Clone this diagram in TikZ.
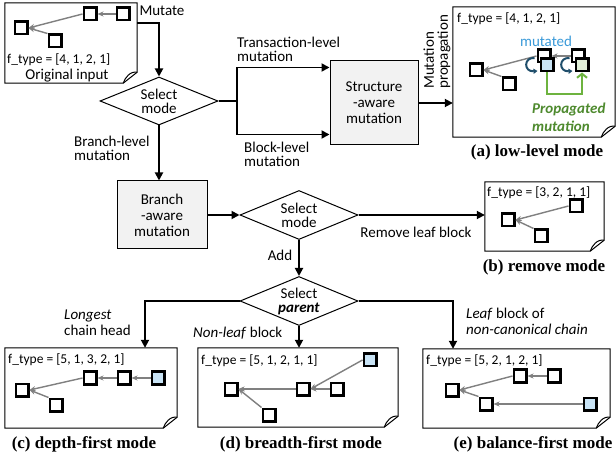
\documentclass[tikz,border=0pt]{standalone}
\usepackage{fontspec}
\setmainfont{Carlito}
\newfontfamily\capfont{Liberation Serif}
\usetikzlibrary{shapes.geometric,arrows.meta,calc}

\definecolor{boxgray}{HTML}{F2F2F2}
\definecolor{mutblue}{HTML}{C9E4F6}
\definecolor{mutgreen}{HTML}{E2F0D9}
\definecolor{propline}{HTML}{6DB33F}
\definecolor{proptext}{HTML}{4E8A2E}
\definecolor{labelblue}{HTML}{3A9AD9}
\definecolor{curlcol}{HTML}{1F4E6B}
\definecolor{linkgray}{HTML}{808080}

\tikzset{
  txt/.style={font=\fontsize{15}{14}\selectfont, inner sep=0pt, align=left},
  txtb/.style={font=\fontsize{15}{16}\selectfont, inner sep=0pt, align=left},
  ftype/.style={font=\fontsize{13.5}{14}\selectfont, inner sep=0pt, anchor=west},
  caption/.style={font=\capfont\bfseries\fontsize{17}{17}\selectfont, inner sep=0pt},
  flow/.style={line width=1.8pt, -{Triangle[length=8pt,width=8pt]}},
  flowline/.style={line width=1.8pt},
  procbox/.style={draw, line width=1pt, fill=boxgray, inner sep=0pt, align=center,
                  font=\fontsize{15}{16}\selectfont},
  choice/.style={diamond, draw, line width=1pt, fill=white, inner sep=0pt, aspect=2.4,
                 align=center, font=\fontsize{15}{14}\selectfont},
  page/.style={inner sep=0pt},
  pageline/.style={line width=1pt, line join=miter},
  blk/.style={draw, line width=2.5pt, fill=white, minimum size=12.5pt, inner sep=0pt},
  link/.style={draw=linkgray, line width=1.4pt, -{Stealth[length=6pt,width=5pt]}},
  curl/.style={draw=curlcol, line width=2pt, -{Triangle[length=4pt,width=5pt]}},
  prop/.style={draw=propline, line width=2pt, -{Straight Barb[length=4pt,width=10pt]}},
}

% page outline with a folded bottom-right corner
\newcommand{\pageoutline}[1]{%
  \draw[pageline, fill=white] (#1.north west) -- (#1.north east)
     -- ($(#1.south east)+(0,-11)$) -- ($(#1.south east)+(-14,0)$)
     -- (#1.south west) -- cycle;
  \draw[pageline] ($(#1.south east)+(-14,0)$) to[bend left=12] ($(#1.south east)+(-9,-8)$)
     to[bend left=25] ($(#1.south east)+(0,-11)$);
}

\begin{document}
\begin{tikzpicture}[x=1pt,y=-1pt]
\useasboundingbox (0,0) rectangle (616,462);

% ---------- original input ----------
\node[page, minimum width=132pt, minimum height=80pt] (orig) at (71,43) {};
\pageoutline{orig}
\node[blk] (oS1) at (21,28) {};
\node[blk] (oS2) at (90,14) {};
\node[blk] (oS3) at (123,14) {};
\node[blk] (oS4) at (55,41) {};
\draw[link] (oS3.west) -- (oS2.east);
\draw[link] (oS2.west) -- (oS1.east);
\draw[link] (oS4.north west) -- (oS1.east);
\node[ftype] (oF) at (7,60) {f\_type = [4, 1, 2, 1]};
\node[txt] (oT) at (67,76) {Original input};

% ---------- first mode choice ----------
\node[choice, minimum width=118pt, minimum height=48pt] (dmA) at (159,101) {Select\\mode};
\node[txt] (lMut) at (162,11) {Mutate};
\draw[flow] ($(orig.north east)+(0,20)$) -| (dmA.north);

\coordinate (jA) at (237,101);
\node[procbox, minimum width=88pt, minimum height=84pt] (sa) at (374,103) {Structure\\-aware\\mutation};
\draw[flowline] (dmA.east) -- (jA);
\draw[flow] (jA) |- ($(sa.north west)+(0,7)$);
\draw[flow] (jA) |- ($(sa.south west)+(0,-11)$);
\node[txt, anchor=west] (lTx) at (237,49) {Transaction-level\\mutation};
\node[txt, anchor=west] (lBl) at (244,154) {Block-level\\mutation};

% ---------- (a) low-level mode ----------
\node[page, minimum width=162pt, minimum height=130pt] (pa) at (534,72) {};
\pageoutline{pa}
\draw[flow] (sa.east) -- (sa.east -| pa.west);
\node[txt, rotate=90, anchor=west] (lProp) at (437,89) {Mutation\\propagation};
\node[ftype] (aF) at (457,19) {f\_type = [4, 1, 2, 1]};
\node[txt, text=labelblue] (aMt) at (546,41) {mutated};
\node[blk] (aS1) at (476,70) {};
\node[blk] (aS2) at (509,84) {};
\node[blk] (aG1) at (544,56) {};
\node[blk] (aG2) at (578,56) {};
\draw[link] (aG2.west) -- (aG1.east);
\draw[link] (aG1.west) -- (aS1.east);
\draw[link] (aS2.north west) -- (aS1.east);
\node[blk, fill=mutblue] (aB) at (547,65) {};
\node[blk, fill=mutgreen] (aGr) at (582,65) {};
\draw[curl] ($(aB.west)+(-5,-7)$) .. controls ($(aB.west)+(-16,-8)$) and ($(aB.west)+(-16,7)$) .. ($(aB.west)+(-2,6)$);
\draw[curl] ($(aGr.west)+(-5,-7)$) .. controls ($(aGr.west)+(-16,-8)$) and ($(aGr.west)+(-16,7)$) .. ($(aGr.west)+(-2,6)$);
\draw[prop] (aB.south) -- ++(0,22) -| (aGr.south);
\node[anchor=west, inner sep=0pt, align=left, text=proptext,
      font=\bfseries\itshape\fontsize{15}{18}\selectfont] (aPm) at (532,117) {Propagated\\mutation};
\node[caption] (capA) at (537,152) {(a) low-level mode};

% ---------- branch-aware path ----------
\node[txt, anchor=west] (lBr) at (74,148) {Branch-level\\mutation};
\node[procbox, minimum width=90pt, minimum height=68pt] (br) at (162,215) {Branch\\-aware\\mutation};
\draw[flow] (dmA.south) -- (dmA.south |- br.north);

\node[choice, minimum width=118pt, minimum height=49pt] (dmB) at (299,215) {Select\\mode};
\draw[flow] (br.east) -- (dmB.west);

% ---------- (b) remove mode ----------
\node[page, minimum width=119pt, minimum height=69pt] (pb) at (544.5,216.5) {};
\pageoutline{pb}
\draw[flow] (dmB.east) -- (dmB.east -| pb.west);
\node[txt] (lRm) at (416,232) {Remove leaf block};
\node[ftype] (bF) at (487,193) {f\_type = [3, 2, 1, 1]};
\node[blk] (bS1) at (508,220) {};
\node[blk] (bS2) at (576,206) {};
\node[blk] (bS3) at (541,236) {};
\draw[link] (bS2.west) -- (bS1.east);
\draw[link] (bS3.north west) -- (bS1.east);
\node[caption] (capB) at (544,267) {(b) remove mode};

% ---------- parent choice ----------
\node[choice, minimum width=118pt, minimum height=49pt] (dmC) at (299,301) {Select\\\textbf{\textit{parent}}};
\draw[flow] (dmB.south) -- (dmC.north);
\node[txt] (lAdd) at (280,255) {Add};

% ---------- (c) depth-first mode ----------
\node[page, minimum width=172pt, minimum height=80pt] (pc) at (91,388) {};
\pageoutline{pc}
\draw[flow] (dmC.west) -| (145,0 |- pc.north);
\node[txtb, anchor=west] (lLg) at (64,323) {\textit{Longest}\\chain head};
\node[ftype] (cF) at (8,360) {f\_type = [5, 1, 3, 2, 1]};
\node[blk] (cS1) at (22,390) {};
\node[blk] (cS2) at (90,378) {};
\node[blk] (cS3) at (124,378) {};
\node[blk, fill=mutblue] (cS4) at (158,378) {};
\node[blk] (cS5) at (56,405) {};
\draw[link] (cS4.west) -- (cS3.east);
\draw[link] (cS3.west) -- (cS2.east);
\draw[link] (cS2.west) -- (cS1.east);
\draw[link] (cS5.north west) -- (cS1.east);
\node[caption] (capC) at (84,444) {(c) depth-first mode};

% ---------- (d) breadth-first mode ----------
\node[page, minimum width=200pt, minimum height=79pt] (pd) at (298,387.5) {};
\pageoutline{pd}
\draw[flow] (dmC.south) -- (dmC.south |- pd.north);
\node[txt, anchor=west] (lNl) at (193,333) {\textit{Non-leaf} block};
\node[ftype] (dF) at (201,361) {f\_type = [5, 1, 2, 1, 1]};
\node[blk] (dS1) at (231,389) {};
\node[blk] (dS2) at (303,389) {};
\node[blk] (dS3) at (337,389) {};
\node[blk, fill=mutblue] (dS4) at (370,360) {};
\node[blk] (dS5) at (269,415) {};
\draw[link] (dS2.west) -- (dS1.east);
\draw[link] (dS3.west) -- (dS2.east);
\draw[link] (dS4.west) -- (dS2.east);
\draw[link] (dS5.north west) -- (dS1.east);
\node[caption] (capD) at (301,444) {(d) breadth-first mode};

% ---------- (e) balance-first mode ----------
\node[page, minimum width=187pt, minimum height=79pt] (pe) at (516.5,388.5) {};
\pageoutline{pe}
\draw[flow] (dmC.east) -| (453,0 |- pe.north);
\node[txtb, anchor=west] (lLf) at (466,321) {\textit{Leaf} block of\\\textit{non-canonical chain}};
\node[ftype] (eF) at (426,361) {f\_type = [5, 2, 1, 2, 1]};
\node[blk] (eS1) at (452,390) {};
\node[blk] (eS2) at (520,376) {};
\node[blk] (eS3) at (554,376) {};
\node[blk] (eS4) at (486,404) {};
\node[blk, fill=mutblue] (eS5) at (590,404) {};
\draw[link] (eS2.west) -- (eS1.east);
\draw[link] (eS3.west) -- (eS2.east);
\draw[link] (eS5.west) -- (eS4.east);
\draw[link] (eS4.north west) -- (eS1.east);
\node[caption] (capE) at (533,444) {(e) balance-first mode};
\end{tikzpicture}
\end{document}
